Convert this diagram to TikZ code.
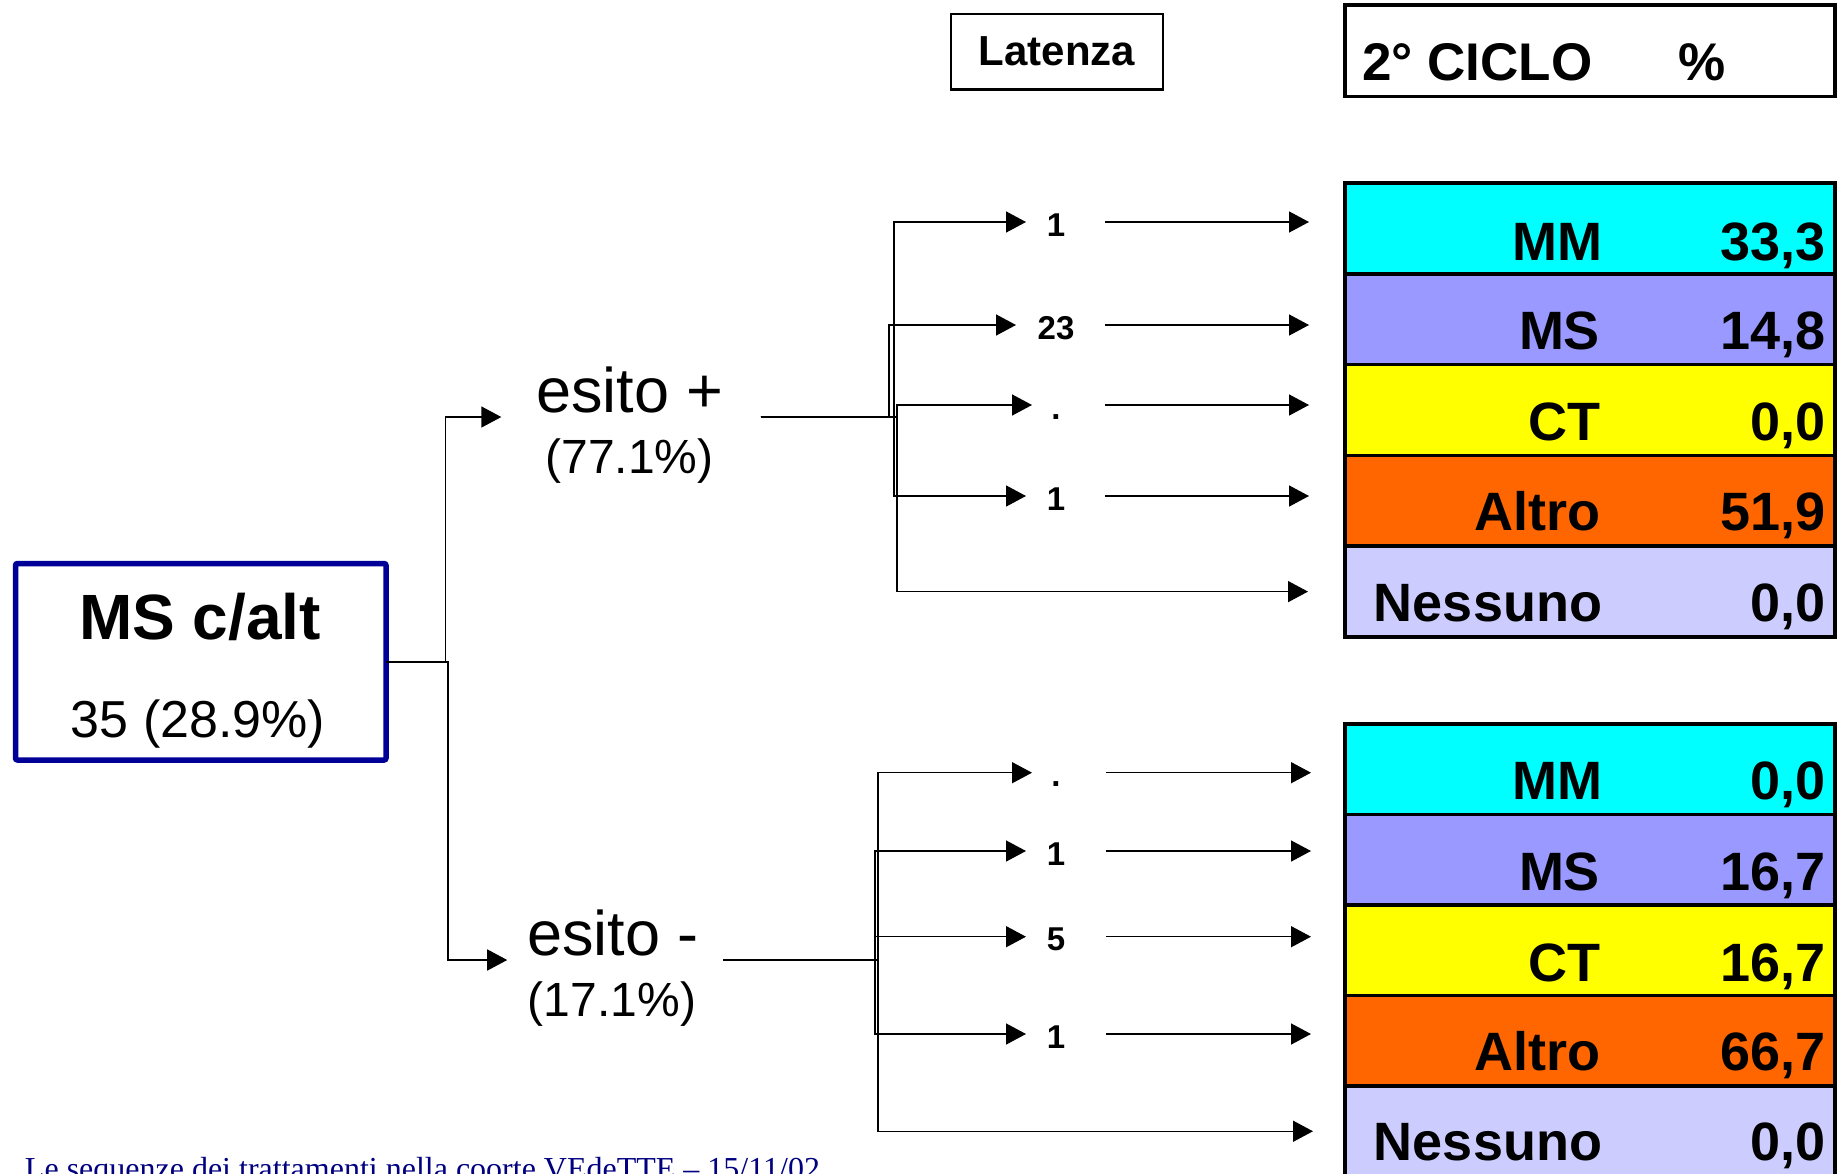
\documentclass[tikz,border=0pt]{standalone}
\usepackage{fontspec}
\setmainfont{Liberation Sans}
\newfontfamily\footfont{Liberation Serif}
\usetikzlibrary{arrows.meta}
\definecolor{cyanc}{HTML}{00FFFF}
\definecolor{msc}{HTML}{9999FF}
\definecolor{ctc}{HTML}{FFFF00}
\definecolor{altc}{HTML}{FF6600}
\definecolor{nesc}{HTML}{CCCCFF}
\definecolor{boxblue}{HTML}{000099}
\definecolor{footnavy}{HTML}{000080}
\newcommand{\fsz}[1]{\fontsize{#1}{#1}\selectfont}
\begin{document}
\begin{tikzpicture}[x=0.5pt,y=-0.5pt,
  txt/.style={inner sep=0pt, outer sep=0pt},
  rowbox/.style={draw=black, line width=1.75pt, minimum width=245pt, minimum height=45.4pt, inner sep=0pt, outer sep=0pt},
  lowrow/.style={rowbox, minimum height=45.25pt},
  tlab/.style={txt, anchor=base east, font=\fsz{27pt}\bfseries},
  latn/.style={txt, anchor=base, font=\fsz{16.5pt}\bfseries, text height=14pt, text depth=0pt, minimum width=30pt},
  arr/.style={line width=0.75pt, -{Triangle[length=10pt,width=10.5pt]}},
  esito/.style={txt, anchor=base, font=\fsz{31.5pt}, text height=0pt},
  perc/.style={txt, anchor=base, font=\fsz{24pt}}
]
\useasboundingbox (0,0) rectangle (1837,1173);
\fill[white] (0,0) rectangle (1837,1173);

% header boxes
\node[draw=black, line width=1.25pt, minimum width=106pt, minimum height=37.75pt, inner sep=0pt, font=\fsz{21pt}\bfseries] (latbox) at (1057,51.5) {Latenza};
\node[draw=black, line width=1.75pt, minimum width=245pt, minimum height=45.75pt, inner sep=0pt] (hdr) at (1590,50.75) {};
\node[txt, anchor=base west, font=\fsz{26.5pt}\bfseries] (hdrt) at (1362,80) {2° CICLO};
\node[txt, anchor=base west, font=\fsz{26.5pt}\bfseries] (hdrp) at (1678,80) {\%};

% source box
\node[draw=boxblue, line width=2.75pt, rounded corners=1pt, minimum width=185.25pt, minimum height=98.25pt, inner sep=0pt, outer sep=0pt] (src) at (200.75,661.75) {};
\node[txt, anchor=base, font=\fsz{32pt}\bfseries] (srct) at (200,639) {MS c/alt};
\node[txt, anchor=base, font=\fsz{26pt}] (srcn) at (198,737) {35 (28.9\%)};

% esito nodes
\node[esito, text depth=4.5pt] (e1) at (630,412.5) {esito +};
\node[perc] (p1) at (629.5,473.5) {(77.1\%)};
\node[esito, text depth=5pt] (e2) at (613,955) {esito -};
\node[perc] (p2) at (612,1016.5) {(17.1\%)};

% upper table
\node[rowbox, fill=cyanc] (mm1) at (1590,228.4) {};
\node[rowbox, fill=msc]   (ms1) at (1590,319.2) {};
\node[rowbox, fill=ctc]   (ct1) at (1590,410.0) {};
\node[rowbox, fill=altc]  (al1) at (1590,500.8) {};
\node[rowbox, fill=nesc]  (ne1) at (1590,591.6) {};
\node[tlab] (mm1l) at (1602,260) {MM};      \node[tlab] (mm1v) at (1826,260) {33,3};
\node[tlab] (ms1l) at (1600,349) {MS};      \node[tlab] (ms1v) at (1826,349) {14,8};
\node[tlab] (ct1l) at (1600,440) {CT};      \node[tlab] (ct1v) at (1826,440) {0,0};
\node[tlab] (al1l) at (1600,530) {Altro};   \node[tlab] (al1v) at (1826,530) {51,9};
\node[tlab] (ne1l) at (1602,621) {Nessuno}; \node[tlab] (ne1v) at (1826,621) {0,0};

% lower table
\node[lowrow, fill=cyanc] (mm2) at (1590,769.25) {};
\node[lowrow, fill=msc]   (ms2) at (1590,859.75) {};
\node[lowrow, fill=ctc]   (ct2) at (1590,950.25) {};
\node[lowrow, fill=altc]  (al2) at (1590,1040.75) {};
\node[lowrow, fill=nesc]  (ne2) at (1590,1131.25) {};
\node[tlab] (mm2l) at (1602,799) {MM};      \node[tlab] (mm2v) at (1826,799) {0,0};
\node[tlab] (ms2l) at (1600,890) {MS};      \node[tlab] (ms2v) at (1826,890) {16,7};
\node[tlab] (ct2l) at (1600,981) {CT};      \node[tlab] (ct2v) at (1826,981) {16,7};
\node[tlab] (al2l) at (1600,1070) {Altro};  \node[tlab] (al2v) at (1826,1070) {66,7};
\node[tlab] (ne2l) at (1602,1160) {Nessuno};\node[tlab] (ne2v) at (1826,1160) {0,0};

% latency numbers
\node[latn] (a1) at (1056,236) {1};
\node[latn] (a2) at (1056,339) {23};
\node[latn] (a3) at (1056,419) {.};
\node[latn] (a4) at (1056,510) {1};
\node[latn] (b1) at (1056,786.7) {.};
\node[latn] (b2) at (1056,865) {1};
\node[latn] (b3) at (1056,950.7) {5};
\node[latn] (b4) at (1056,1048) {1};

% source to esito
\draw[arr, shorten >=17.5pt] (src.east) -| ([xshift=-45.5pt]e1.west) -- (e1.west);
\draw[arr, shorten >=10pt] (src.east) -| ([xshift=-39.5pt]e2.west) -- (e2.west);

% upper branches
\draw[arr] ([xshift=18.5pt]e1.east) -| ([xshift=-66pt]a1.west) -- (a1.west);
\draw[arr, shorten >=5pt] ([xshift=18.5pt]e1.east) -| ([xshift=-68.5pt]a2.west) -- (a2.west);
\draw[arr] ([xshift=18.5pt]e1.east) -| ([xshift=-64.5pt]a3.west) -- ([xshift=3pt]a3.west);
\draw[arr] ([xshift=18.5pt]e1.east) -| ([xshift=-66pt]a4.west) -- (a4.west);
\draw[arr, shorten >=18.5pt] ([xshift=18.5pt]e1.east) -| ([xshift=-224pt]ne1.west) -- (ne1.west);
\foreach \n/\r in {a1/mm1,a2/ms1,a3/ct1,a4/al1}
  \draw[arr, shorten <=9.5pt, shorten >=18pt] (\n.east) -- (\n.east -| \r.west);

% lower branches
\draw[arr] ([xshift=12.25pt]e2.east) -| ([xshift=-74pt]b1.west) -- ([xshift=3pt]b1.west);
\draw[arr] ([xshift=12.25pt]e2.east) -| ([xshift=-75.5pt]b2.west) -- (b2.west);
\draw[arr] ([xshift=12.25pt]e2.east) -| ([xshift=-75.5pt]b3.west) -- (b3.west);
\draw[arr] ([xshift=12.25pt]e2.east) -| ([xshift=-75.5pt]b4.west) -- (b4.west);
\draw[arr, shorten >=16pt] ([xshift=12.25pt]e2.east) -| ([xshift=-233.5pt]ne2.west) -- (ne2.west);
\foreach \n/\r in {b1/mm2,b2/ms2,b3/ct2,b4/al2}
  \draw[arr, shorten <=10pt, shorten >=17pt] (\n.east) -- (\n.east -| \r.west);

% footer
\node[txt, anchor=base west, text=footnavy, font=\footfont\fsz{16pt}] (foot) at (25,1179) {Le sequenze dei trattamenti nella coorte VEdeTTE – 15/11/02};
\end{tikzpicture}
\end{document}
